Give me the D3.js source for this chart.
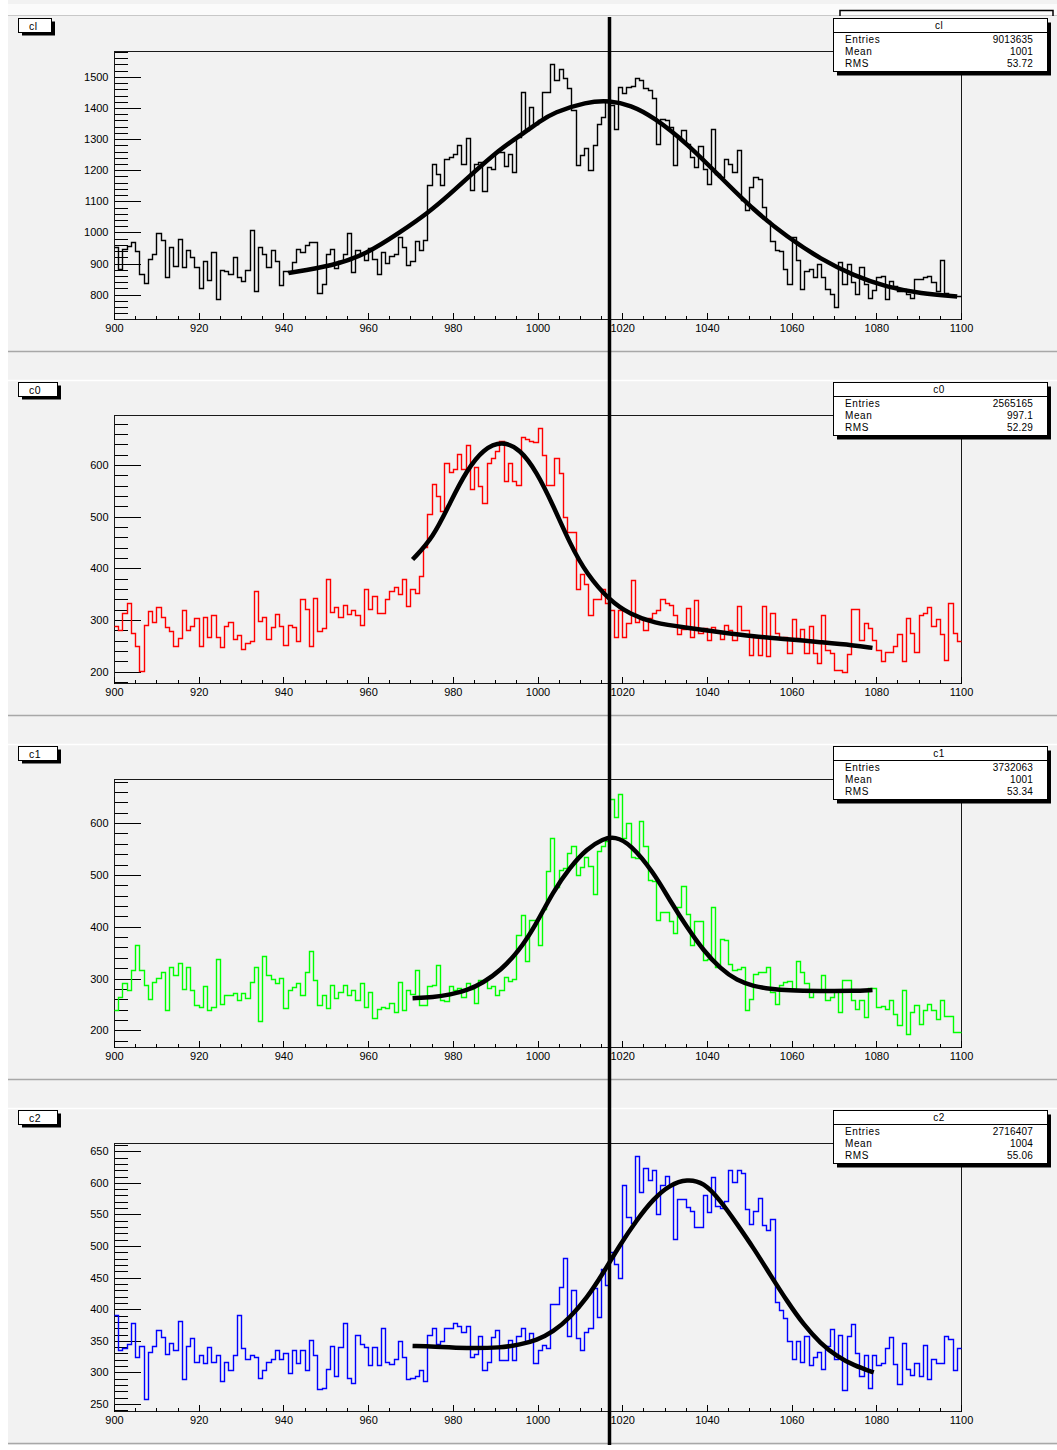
<!DOCTYPE html>
<html>
<head>
<meta charset="utf-8">
<script src="https://cdn.jsdelivr.net/npm/d3@7"></script>
<style>
  body { margin: 0; background: #ffffff; }
  svg { display: block; font-family: "Liberation Sans", Arial, sans-serif; }
</style>
</head>
<body>
<div id="chart"></div>
<script>
"use strict";

// == DEFINE DATA ==
var xDomain = [900, 1100];
var xTickValues = [900, 920, 940, 960, 980, 1000, 1020, 1040, 1060, 1080, 1100];
var cutValue = 1017;

var panelNames = ["cl", "c0", "c1", "c2"];
var statLabels = ["Entries", "Mean", "RMS"];

// one value per bin of width 1, from 900 to 1099
var clCounts = [
  952, 882, 947, 958, 968, 941, 866, 839, 915, 931,
  997, 976, 858, 954, 893, 978, 890, 944, 920, 888,
  823, 909, 847, 936, 786, 879, 875, 868, 922, 858,
  845, 879, 1009, 813, 954, 931, 890, 944, 909, 831,
  877, 872, 904, 947, 936, 960, 968, 968, 807, 834,
  931, 947, 885, 909, 931, 998, 874, 944, 931, 911,
  950, 915, 866, 936, 901, 926, 931, 984, 952, 896,
  909, 974, 944, 976, 1151, 1221, 1189, 1151, 1237, 1244,
  1253, 1280, 1221, 1303, 1137, 1221, 1226, 1133, 1210, 1205,
  1258, 1258, 1215, 1253, 1194, 1307, 1452, 1328, 1403, 1350,
  1361, 1452, 1452, 1541, 1490, 1524, 1495, 1463, 1393, 1216,
  1248, 1270, 1200, 1280, 1350, 1371, 1425, 1409, 1334, 1468,
  1447, 1468, 1470, 1495, 1491, 1463, 1457, 1431, 1285, 1366,
  1361, 1339, 1216, 1307, 1328, 1285, 1242, 1210, 1277, 1205,
  1157, 1331, 1189, 1178, 1237, 1221, 1194, 1264, 1103, 1071,
  1146, 1178, 1173, 1081, 1038, 974, 944, 939, 883, 834,
  985, 910, 818, 877, 883, 856, 899, 856, 818, 802,
  759, 904, 834, 899, 840, 802, 888, 834, 791, 815,
  856, 861, 786, 845, 829, 813, 818, 802, 791, 850,
  850, 856, 861, 840, 813, 910, 807, 797, 797, 797
];

var c0Counts = [
  289, 280, 314, 333, 275, 250, 202, 291, 317, 296,
  325, 306, 286, 278, 250, 265, 320, 280, 288, 303,
  250, 306, 267, 309, 267, 247, 288, 297, 263, 270,
  244, 255, 259, 356, 298, 306, 264, 286, 311, 289,
  252, 291, 286, 259, 340, 322, 250, 342, 278, 285,
  380, 315, 325, 305, 330, 311, 320, 309, 291, 360,
  322, 346, 314, 314, 341, 356, 363, 350, 380, 328,
  360, 353, 385, 441, 506, 563, 541, 512, 605, 586,
  593, 621, 593, 638, 553, 597, 560, 527, 605, 614,
  627, 647, 569, 605, 569, 561, 655, 650, 647, 645,
  672, 620, 561, 561, 614, 584, 499, 471, 471, 361,
  389, 369, 309, 341, 340, 361, 333, 320, 268, 319,
  267, 294, 378, 296, 301, 280, 304, 314, 319, 341,
  332, 330, 309, 272, 283, 324, 268, 339, 275, 285,
  262, 286, 276, 263, 291, 281, 262, 327, 280, 280,
  233, 268, 233, 327, 231, 314, 275, 263, 268, 236,
  301, 265, 283, 237, 288, 237, 216, 310, 242, 237,
  203, 203, 200, 234, 322, 322, 262, 294, 285, 262,
  242, 220, 239, 239, 249, 272, 220, 304, 275, 239,
  309, 313, 326, 289, 301, 272, 223, 333, 275, 259
];

var c1Counts = [
  240, 265, 291, 277, 316, 365, 317, 288, 260, 293,
  301, 312, 239, 323, 307, 330, 279, 323, 277, 249,
  246, 285, 239, 246, 337, 251, 269, 269, 272, 259,
  272, 262, 293, 323, 219, 343, 307, 300, 291, 301,
  244, 277, 283, 291, 269, 312, 353, 298, 249, 269,
  244, 287, 262, 274, 288, 269, 277, 258, 291, 246,
  274, 224, 242, 246, 244, 253, 235, 293, 240, 277,
  271, 316, 249, 249, 285, 288, 327, 258, 257, 285,
  277, 282, 265, 291, 280, 253, 298, 295, 282, 285,
  269, 277, 304, 295, 300, 385, 422, 334, 413, 413,
  364, 434, 508, 572, 476, 509, 513, 543, 556, 500,
  515, 534, 518, 463, 547, 556, 566, 646, 612, 657,
  572, 601, 535, 533, 604, 556, 491, 489, 413, 428,
  428, 412, 388, 439, 479, 425, 364, 412, 412, 335,
  338, 438, 322, 377, 375, 328, 316, 319, 322, 240,
  261, 309, 312, 312, 323, 274, 251, 288, 293, 296,
  280, 334, 312, 291, 265, 277, 277, 307, 258, 265,
  277, 235, 298, 298, 258, 242, 258, 226, 282, 282,
  245, 248, 242, 259, 232, 211, 277, 194, 235, 249,
  213, 239, 251, 239, 222, 258, 227, 227, 197, 197
];

var c2Counts = [
  391, 336, 339, 345, 378, 324, 342, 258, 333, 342,
  367, 356, 329, 346, 336, 382, 290, 342, 354, 317,
  327, 315, 340, 317, 328, 286, 317, 304, 327, 391,
  338, 322, 327, 325, 292, 304, 317, 322, 335, 322,
  330, 299, 336, 315, 336, 304, 351, 328, 274, 276,
  306, 342, 295, 341, 378, 292, 283, 360, 345, 340,
  311, 340, 311, 370, 317, 313, 322, 349, 325, 290,
  292, 295, 304, 286, 360, 370, 345, 350, 370, 370,
  378, 373, 364, 373, 324, 329, 357, 304, 317, 356,
  367, 319, 319, 351, 319, 357, 370, 349, 362, 315,
  336, 343, 339, 409, 409, 435, 481, 357, 430, 354,
  336, 364, 370, 434, 388, 464, 438, 491, 472, 450,
  597, 546, 537, 642, 586, 623, 604, 620, 550, 596,
  611, 596, 511, 575, 575, 562, 556, 530, 530, 581,
  554, 609, 563, 560, 572, 621, 601, 621, 616, 558,
  535, 556, 576, 534, 525, 543, 412, 399, 386, 349,
  321, 350, 317, 358, 312, 325, 332, 306, 342, 369,
  322, 359, 273, 357, 377, 330, 294, 328, 276, 328,
  312, 315, 338, 356, 313, 281, 346, 306, 296, 315,
  295, 343, 290, 322, 315, 315, 357, 353, 304, 338
];

// fitted curves as [x, value]
var clFit = [
  [941.2, 870], [951.8, 893], [959.7, 931], [967.6, 1001], [973.9, 1060],
  [979.4, 1124], [983.3, 1173], [991.3, 1270], [996, 1312], [1000.7, 1358],
  [1003.7, 1385], [1011.6, 1420], [1017, 1424], [1022, 1409], [1027.4, 1371],
  [1035.3, 1286], [1043.2, 1178], [1051.1, 1071], [1059, 985], [1066.8, 915],
  [1074.7, 861], [1082.6, 824], [1090.5, 804], [1099.1, 794]
];
var c0Fit = [
  [970.5, 417], [975.4, 460], [979.4, 528], [983.3, 590], [987.2, 631],
  [991.6, 647], [995.9, 631], [999.8, 587], [1003.7, 522], [1007.7, 447],
  [1011.6, 389], [1017.1, 337], [1021.9, 311], [1027.4, 294], [1035.3, 285],
  [1043.2, 276], [1051.1, 268], [1059, 263], [1066.8, 257], [1074.7, 251],
  [1079.1, 246]
];
var c1Fit = [
  [970.5, 262], [975.4, 264], [979.4, 269], [983.3, 277], [987.2, 292],
  [991.3, 316], [995.5, 352], [999.5, 402], [1003.7, 468], [1007.7, 515],
  [1011.6, 550], [1015.5, 570], [1018.3, 574], [1021.9, 560], [1027.4, 505],
  [1031.3, 450], [1035.3, 399], [1039.2, 354], [1043.2, 319], [1047.1, 296],
  [1051.1, 285], [1055, 280], [1059, 277], [1066.8, 276], [1074.7, 276],
  [1079.1, 278]
];
var c2Fit = [
  [970.5, 342], [975.4, 341], [983.3, 338], [991.3, 339], [995.9, 344],
  [999.8, 351], [1003.7, 364], [1007.7, 387], [1011.6, 417], [1015.5, 457],
  [1019.4, 501], [1023.4, 541], [1027.4, 575], [1031.3, 597], [1035.3, 606],
  [1039.2, 601], [1043.2, 572], [1047.1, 535], [1051.1, 496], [1055, 454],
  [1059, 412], [1062.9, 375], [1066.8, 346], [1070.8, 325], [1074.7, 311],
  [1079.4, 300]
];

var clTicks = [800, 900, 1000, 1100, 1200, 1300, 1400, 1500];
var c0Ticks = [200, 300, 400, 500, 600];
var c1Ticks = [200, 300, 400, 500, 600];
var c2Ticks = [250, 300, 350, 400, 450, 500, 550, 600, 650];

var clStats = ["9013635", "1001", "53.72"];
var c0Stats = ["2565165", "997.1", "52.29"];
var c1Stats = ["3732063", "1001", "53.34"];
var c2Stats = ["2716407", "1004", "55.06"];

// == BOILERPLATE ==
var width = 1057, height = 1450;
var frameLeft = 114, frameRight = 961, frameTop = 51, frameHeight = 268;
var panelStep = 364;

var panels = [
  { name: panelNames[0], counts: clCounts, fit: clFit, ticks: clTicks, stats: clStats,
    yDomain: [722, 1583], minorStep: 20, color: "#000000", labelW: 33 },
  { name: panelNames[1], counts: c0Counts, fit: c0Fit, ticks: c0Ticks, stats: c0Stats,
    yDomain: [178, 697], minorStep: 20, color: "#ff0000", labelW: 39 },
  { name: panelNames[2], counts: c1Counts, fit: c1Fit, ticks: c1Ticks, stats: c1Stats,
    yDomain: [168, 685], minorStep: 20, color: "#00ff00", labelW: 39 },
  { name: panelNames[3], counts: c2Counts, fit: c2Fit, ticks: c2Ticks, stats: c2Stats,
    yDomain: [239, 663], minorStep: 10, color: "#0000ff", labelW: 39 }
];

var svg = d3.select("#chart")
  .append("svg")
  .attr("width", width)
  .attr("height", height);

// == CANVAS ==
svg.append("rect").attr("width", width).attr("height", height).attr("fill", "#ffffff");
svg.append("rect").attr("x", 8).attr("y", 0).attr("width", width - 8).attr("height", 1445)
  .attr("fill", "#f2f2f2");
svg.append("rect").attr("x", 8).attr("y", 4).attr("width", width - 8).attr("height", 11)
  .attr("fill", "#fbfbfb");
svg.append("line").attr("x1", 8).attr("x2", width).attr("y1", 15.5).attr("y2", 15.5)
  .attr("stroke", "#c8c8c8");

for (var k = 0; k < 4; k++) {
  svg.append("line")
    .attr("x1", 8).attr("x2", width)
    .attr("y1", 351.5 + k * panelStep).attr("y2", 351.5 + k * panelStep)
    .attr("stroke", "#a8a8a8").attr("stroke-width", 1.5);
  if (k < 3) {
    svg.append("line")
      .attr("x1", 8).attr("x2", width)
      .attr("y1", 380.5 + k * panelStep).attr("y2", 380.5 + k * panelStep)
      .attr("stroke", "#ffffff").attr("stroke-width", 1.5);
  }
}

// bracket above the first stats box
svg.append("path")
  .attr("d", "M840,16V10.5H1053V16")
  .attr("fill", "none").attr("stroke", "#000").attr("stroke-width", 1.5);

var x = d3.scaleLinear().domain(xDomain).range([frameLeft, frameRight]);

// == PANELS ==
panels.forEach(function (p, i) {
  var top = frameTop + i * panelStep;
  var bottom = top + frameHeight;
  var y = d3.scaleLinear().domain(p.yDomain).range([bottom, top]);
  var g = svg.append("g");

  // frame
  g.append("rect")
    .attr("x", frameLeft + 0.5).attr("y", top + 0.5)
    .attr("width", frameRight - frameLeft).attr("height", frameHeight)
    .attr("fill", "none").attr("stroke", "#1a1a1a");

  // y axis: minor ticks, then major ticks with labels
  var minor = d3.range(Math.ceil(p.yDomain[0] / p.minorStep) * p.minorStep, p.yDomain[1], p.minorStep);
  g.append("g")
    .attr("transform", "translate(" + (frameLeft + 0.5) + ",0)")
    .call(d3.axisLeft(y).tickValues(minor).tickSize(-13).tickFormat(""))
    .call(function (a) { a.select(".domain").remove(); });
  g.append("g")
    .attr("transform", "translate(" + (frameLeft + 0.5) + ",0)")
    .call(d3.axisLeft(y).tickValues(p.ticks).tickSize(-26).tickPadding(6).tickFormat(d3.format("d")))
    .call(function (a) { a.select(".domain").remove(); })
    .attr("font-size", 11)
    .attr("font-family", "'Liberation Sans', Arial, sans-serif");

  // x axis
  g.append("g")
    .attr("transform", "translate(0," + (bottom + 0.5) + ")")
    .call(d3.axisBottom(x).tickValues(d3.range(xDomain[0], xDomain[1] + 1, 5)).tickSize(-3.5).tickFormat(""))
    .call(function (a) { a.select(".domain").remove(); });
  g.append("g")
    .attr("transform", "translate(0," + (bottom + 0.5) + ")")
    .call(d3.axisBottom(x).tickValues(xTickValues).tickSize(-7).tickPadding(5).tickFormat(d3.format("d")))
    .call(function (a) { a.select(".domain").remove(); })
    .attr("font-size", 11)
    .attr("font-family", "'Liberation Sans', Arial, sans-serif");

  g.selectAll(".tick line").attr("shape-rendering", "crispEdges");

  // histogram outline
  var steps = p.counts.map(function (v, b) { return [xDomain[0] + b, v]; });
  steps.push([xDomain[1], p.counts[p.counts.length - 1]]);
  g.append("path")
    .datum(steps)
    .attr("fill", "none")
    .attr("stroke", p.color)
    .attr("stroke-width", 1.4)
    .attr("d", d3.line()
      .x(function (d) { return Math.round(x(d[0])) + 0.5; })
      .y(function (d) { return Math.round(y(d[1])) + 0.5; })
      .curve(d3.curveStepAfter));

  // fit curve
  g.append("path")
    .datum(p.fit)
    .attr("fill", "none")
    .attr("stroke", "#000")
    .attr("stroke-width", 4.5)
    .attr("d", d3.line()
      .x(function (d) { return x(d[0]); })
      .y(function (d) { return y(d[1]); })
      .curve(d3.curveBasis));

  // title box at top left
  var ly = top - 32.5;
  g.append("rect").attr("x", 22).attr("y", ly + 3).attr("width", p.labelW).attr("height", 14).attr("fill", "#000");
  g.append("rect").attr("x", 18.5).attr("y", ly).attr("width", p.labelW).attr("height", 14)
    .attr("fill", "#fff").attr("stroke", "#000");
  g.append("text").attr("x", 29).attr("y", ly + 11)
    .attr("font-size", 10.5).attr("letter-spacing", 0.5).text(p.name);

  // stats box
  var sx = 833, sy = top - 32.5, sw = 214, sh = 53;
  g.append("rect").attr("x", sx + 4).attr("y", sy + 4).attr("width", sw).attr("height", sh).attr("fill", "#000");
  g.append("rect").attr("x", sx + 0.5).attr("y", sy).attr("width", sw).attr("height", sh)
    .attr("fill", "#fff").attr("stroke", "#000");
  g.append("line").attr("x1", sx).attr("x2", sx + sw).attr("y1", sy + 14).attr("y2", sy + 14).attr("stroke", "#000");
  g.append("text").attr("x", sx + sw / 2 - 1).attr("y", sy + 10.5)
    .attr("text-anchor", "middle").attr("font-size", 10).attr("letter-spacing", 0.5).text(p.name);
  statLabels.forEach(function (lab, r) {
    g.append("text").attr("x", sx + 12).attr("y", sy + 24.5 + r * 12)
      .attr("font-size", 10).attr("letter-spacing", 0.6).text(lab);
    g.append("text").attr("x", sx + 200).attr("y", sy + 24.5 + r * 12)
      .attr("text-anchor", "end").attr("font-size", 10).attr("letter-spacing", 0.2).text(p.stats[r]);
  });
});

// == CUT LINE ==
svg.append("line")
  .attr("x1", x(cutValue)).attr("x2", x(cutValue))
  .attr("y1", 17).attr("y2", 1445)
  .attr("stroke", "#000").attr("stroke-width", 3.5);
</script>
</body>
</html>
